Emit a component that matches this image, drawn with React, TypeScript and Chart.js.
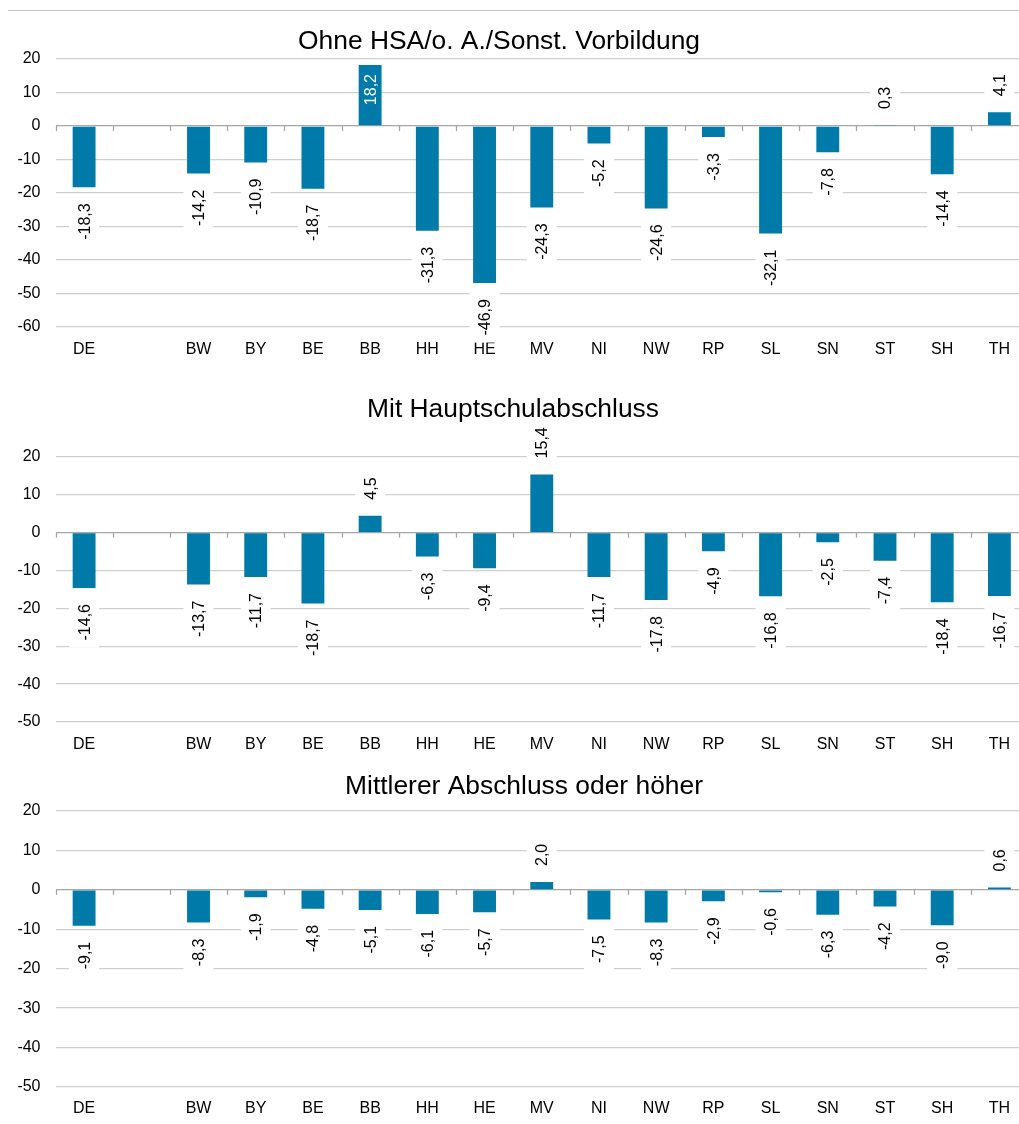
import React, { useEffect, useRef } from 'react';
import { Chart, registerables } from 'chart.js';

Chart.register(...registerables);

// ---------- data ----------
const categories = ['DE', '', 'BW', 'BY', 'BE', 'BB', 'HH', 'HE', 'MV', 'NI', 'NW', 'RP', 'SL', 'SN', 'ST', 'SH', 'TH'];

const titleOhne = 'Ohne HSA/o. A./Sonst. Vorbildung';
const titleHaupt = 'Mit Hauptschulabschluss';
const titleMittel = 'Mittlerer Abschluss oder höher';

const valuesOhne = [-18.3, null, -14.2, -10.9, -18.7, 18.2, -31.3, -46.9, -24.3, -5.2, -24.6, -3.3, -32.1, -7.8, 0.3, -14.4, 4.1];
const valuesHaupt = [-14.6, null, -13.7, -11.7, -18.7, 4.5, -6.3, -9.4, 15.4, -11.7, -17.8, -4.9, -16.8, -2.5, -7.4, -18.4, -16.7];
const valuesMittel = [-9.1, null, -8.3, -1.9, -4.8, -5.1, -6.1, -5.7, 2.0, -7.5, -8.3, -2.9, -0.6, -6.3, -4.2, -9.0, 0.6];

const yRangeOhne = [-60, 20];
const yRangeHaupt = [-50, 20];
const yRangeMittel = [-50, 20];

// ---------- styles ----------
const FONT = '"Liberation Sans", Arial, sans-serif';
const BAR_COLOR = '#007aa8';
const GRID_COLOR = '#cfcfcf';
const ZERO_COLOR = '#a6a6a6';
const CANVAS_W = 1032;
const X_AXIS_H = 32;

type PanelLayout = {
  top: number;
  height: number;
  areaTop: number;
  areaBottom: number;
  xPad: number;
  titleX: number;
  titleBaseline: number;
};

const layoutOhne: PanelLayout = { top: 0, height: 370, areaTop: 59, areaBottom: 327, xPad: 13, titleX: 499, titleBaseline: 48.5 };
const layoutHaupt: PanelLayout = { top: 370, height: 385, areaTop: 87, areaBottom: 352, xPad: 13, titleX: 513, titleBaseline: 46.5 };
const layoutMittel: PanelLayout = { top: 755, height: 369, areaTop: 56, areaBottom: 332, xPad: 12, titleX: 524, titleBaseline: 39 };

const fmt = (v: number) => v.toFixed(1).replace('.', ',');

function makePlugin(title: string, lay: PanelLayout) {
  return {
    id: 'customDecor',
    afterDraw(chart: any) {
      const ctx = chart.ctx as CanvasRenderingContext2D;
      const area = chart.chartArea;
      const ys = chart.scales.y;

      // title
      ctx.save();
      ctx.font = `26.4px ${FONT}`;
      ctx.fillStyle = '#000';
      ctx.textAlign = 'center';
      ctx.textBaseline = 'alphabetic';
      ctx.fillText(title, lay.titleX, lay.titleBaseline);
      ctx.restore();

      // tick marks on zero line at category boundaries
      const y0 = ys.getPixelForValue(0);
      const n = categories.length;
      const cw = (area.right - area.left) / n;
      ctx.save();
      ctx.strokeStyle = ZERO_COLOR;
      ctx.lineWidth = 1.3;
      for (let i = 0; i <= n; i++) {
        const x = Math.round(area.left + i * cw) + 0.5;
        ctx.beginPath();
        ctx.moveTo(x, y0);
        ctx.lineTo(x, y0 + 5);
        ctx.stroke();
      }
      ctx.restore();

      // data labels
      const meta = chart.getDatasetMeta(0);
      const data = chart.data.datasets[0].data as (number | null)[];
      ctx.save();
      ctx.font = `16px ${FONT}`;
      meta.data.forEach((bar: any, i: number) => {
        const v = data[i];
        if (v === null || v === undefined) return;
        const text = fmt(v);
        const w = ctx.measureText(text).width;
        const end = ys.getPixelForValue(v);
        const gap = 16;
        let cy: number;
        let inside = false;
        if (v < 0) {
          cy = end + gap + w / 2;
        } else {
          cy = end - gap - w / 2;
          if (cy - w / 2 < 22) {
            inside = true;
            cy = end + 9 + w / 2;
          }
        }
        ctx.save();
        ctx.translate(bar.x, cy);
        ctx.rotate(-Math.PI / 2);
        if (!inside) {
          ctx.fillStyle = '#ffffff';
          ctx.fillRect(-w / 2 - 7, -15, w + 14, 30);
        }
        ctx.fillStyle = inside ? '#ffffff' : '#000000';
        ctx.textAlign = 'center';
        ctx.textBaseline = 'middle';
        ctx.fillText(text, 0, 1);
        ctx.restore();
      });
      ctx.restore();
    },
  };
}

function Panel({ title, values, range, lay }: { title: string; values: (number | null)[]; range: number[]; lay: PanelLayout }) {
  const ref = useRef<HTMLCanvasElement | null>(null);
  useEffect(() => {
    if (!ref.current) return;
    const padBottom = lay.height - lay.areaBottom - X_AXIS_H;
    const chart = new Chart(ref.current, {
      type: 'bar',
      data: {
        labels: categories,
        datasets: [
          {
            data: values as any,
            backgroundColor: BAR_COLOR,
            borderWidth: 0,
            categoryPercentage: 1,
            barPercentage: 0.4,
          },
        ],
      },
      options: {
        responsive: false,
        animation: false,
        layout: { padding: { top: lay.areaTop, bottom: padBottom, left: 0, right: 4 } },
        plugins: {
          legend: { display: false },
          title: { display: false },
          tooltip: { enabled: false },
        },
        scales: {
          x: {
            afterFit: (s: any) => {
              s.height = X_AXIS_H;
            },
            grid: { display: false, drawTicks: false },
            border: { display: false },
            ticks: {
              font: { family: FONT, size: 16 },
              color: '#000',
              padding: lay.xPad,
              maxRotation: 0,
              autoSkip: false,
            },
          },
          y: {
            min: range[0],
            max: range[1],
            afterFit: (s: any) => {
              s.width = 55.5;
            },
            grid: {
              drawTicks: false,
              lineWidth: 1.3,
              color: (c: any) => (c.tick && c.tick.value === 0 ? ZERO_COLOR : GRID_COLOR),
            },
            border: { display: false },
            ticks: {
              stepSize: 10,
              font: { family: FONT, size: 16 },
              color: '#000',
              padding: 15,
              callback: (v: any) => String(v),
            },
          },
        },
      },
      plugins: [makePlugin(title, lay)],
    });
    return () => chart.destroy();
  }, []);
  return (
    <canvas
      ref={ref}
      width={CANVAS_W}
      height={lay.height}
      style={{ position: 'absolute', left: 0, top: lay.top, display: 'block' }}
    />
  );
}

export default function App() {
  return (
    <div style={{ position: 'fixed', left: 0, top: 0, width: 1019, height: 1124, overflow: 'hidden', background: '#fff' }}>
      <div style={{ position: 'absolute', left: 8, top: 10, width: 1011, height: 1, background: '#c4c4c4' }} />
      <Panel title={titleOhne} values={valuesOhne} range={yRangeOhne} lay={layoutOhne} />
      <Panel title={titleHaupt} values={valuesHaupt} range={yRangeHaupt} lay={layoutHaupt} />
      <Panel title={titleMittel} values={valuesMittel} range={yRangeMittel} lay={layoutMittel} />
    </div>
  );
}
